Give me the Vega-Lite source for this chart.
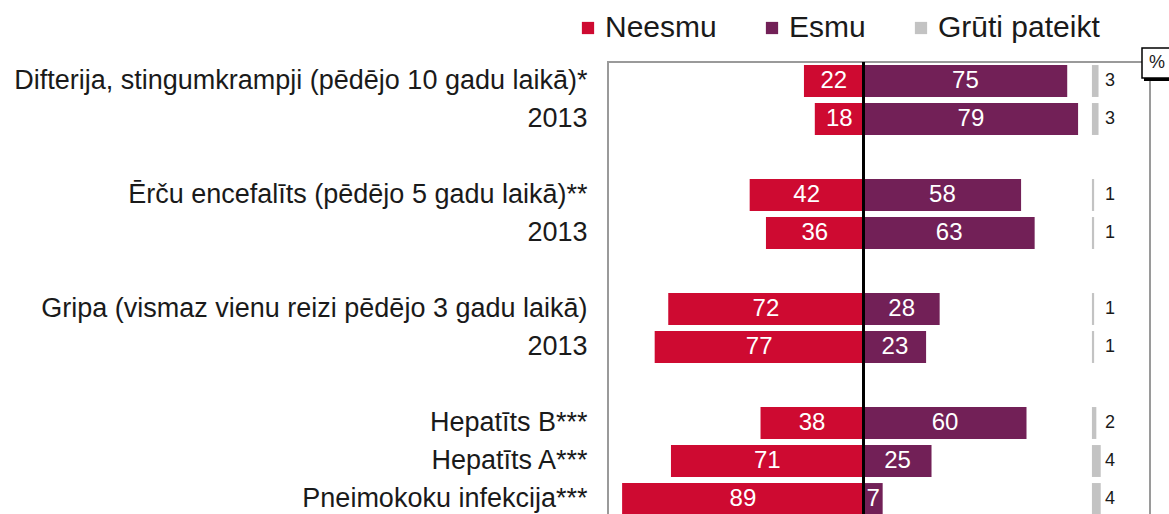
{
  "$schema": "https://vega.github.io/schema/vega-lite/v6.json",
  "width": 542,
  "height": 456,
  "autosize": {"type": "none"},
  "padding": {"left": 608, "top": 62, "right": 19, "bottom": 0},
  "background": "white",
  "config": {
    "view": {"stroke": "#9a9a9a", "strokeWidth": 2},
    "font": "Liberation Sans"
  },
  "data": {
    "values": [
      {"row": "Difterija, stingumkrampji (pēdējo 10 gadu laikā)*", "category": "Neesmu", "value": 22},
      {"row": "Difterija, stingumkrampji (pēdējo 10 gadu laikā)*", "category": "Esmu", "value": 75},
      {"row": "Difterija, stingumkrampji (pēdējo 10 gadu laikā)*", "category": "Grūti pateikt", "value": 3},
      {"row": "2013a", "category": "Neesmu", "value": 18},
      {"row": "2013a", "category": "Esmu", "value": 79},
      {"row": "2013a", "category": "Grūti pateikt", "value": 3},
      {"row": "Ērču encefalīts (pēdējo 5 gadu laikā)**", "category": "Neesmu", "value": 42},
      {"row": "Ērču encefalīts (pēdējo 5 gadu laikā)**", "category": "Esmu", "value": 58},
      {"row": "Ērču encefalīts (pēdējo 5 gadu laikā)**", "category": "Grūti pateikt", "value": 1},
      {"row": "2013b", "category": "Neesmu", "value": 36},
      {"row": "2013b", "category": "Esmu", "value": 63},
      {"row": "2013b", "category": "Grūti pateikt", "value": 1},
      {"row": "Gripa (vismaz vienu reizi pēdējo 3 gadu laikā)", "category": "Neesmu", "value": 72},
      {"row": "Gripa (vismaz vienu reizi pēdējo 3 gadu laikā)", "category": "Esmu", "value": 28},
      {"row": "Gripa (vismaz vienu reizi pēdējo 3 gadu laikā)", "category": "Grūti pateikt", "value": 1},
      {"row": "2013c", "category": "Neesmu", "value": 77},
      {"row": "2013c", "category": "Esmu", "value": 23},
      {"row": "2013c", "category": "Grūti pateikt", "value": 1},
      {"row": "Hepatīts B***", "category": "Neesmu", "value": 38},
      {"row": "Hepatīts B***", "category": "Esmu", "value": 60},
      {"row": "Hepatīts B***", "category": "Grūti pateikt", "value": 2},
      {"row": "Hepatīts A***", "category": "Neesmu", "value": 71},
      {"row": "Hepatīts A***", "category": "Esmu", "value": 25},
      {"row": "Hepatīts A***", "category": "Grūti pateikt", "value": 4},
      {"row": "Pneimokoku infekcija***", "category": "Neesmu", "value": 89},
      {"row": "Pneimokoku infekcija***", "category": "Esmu", "value": 7},
      {"row": "Pneimokoku infekcija***", "category": "Grūti pateikt", "value": 4}
    ]
  },
  "transform": [
    {"calculate": "datum.category == 'Neesmu' ? -datum.value : datum.value", "as": "x"},
    {"calculate": "datum.x / 2", "as": "mid"}
  ],
  "layer": [
    {
      "layer": [
        {
          "transform": [{"filter": "datum.category != 'Grūti pateikt'"}],
          "mark": {"type": "bar"},
          "encoding": {
            "y": {
              "field": "row", "type": "nominal", "sort": null,
              "scale": {"domain": ["Difterija, stingumkrampji (pēdējo 10 gadu laikā)*", "2013a", "gap1", "Ērču encefalīts (pēdējo 5 gadu laikā)**", "2013b", "gap2", "Gripa (vismaz vienu reizi pēdējo 3 gadu laikā)", "2013c", "gap3", "Hepatīts B***", "Hepatīts A***", "Pneimokoku infekcija***"], "paddingInner": 0.16, "paddingOuter": 0.08},
              "axis": {
                "title": null, "domain": false, "ticks": false, "labelFontSize": 27, "labelPadding": 21, "labelLimit": 800, "labelColor": "#1a1a1a",
                "labelExpr": "indexof(datum.label,'gap')==0 ? '' : (indexof(datum.label,'2013')==0 ? '2013' : datum.label)"
              }
            },
            "x": {"field": "x", "type": "quantitative", "scale": {"domain": [-94.2, 105.5], "nice": false}, "axis": null},
            "color": {
              "field": "category", "type": "nominal",
              "scale": {"domain": ["Neesmu", "Esmu", "Grūti pateikt"], "range": ["#CE0A31", "#722057", "#C3C3C3"]},
              "legend": {
                "orient": "none", "legendX": -35, "legendY": -49, "direction": "horizontal", "title": null,
                "symbolType": "square", "symbolSize": 150, "symbolStrokeWidth": 0, "labelFontSize": 30, "labelOffset": 2,
                "columnPadding": 40, "labelColor": "#1a1a1a", "labelLimit": 400
              }
            }
          }
        },
        {
          "transform": [{"filter": "datum.category != 'Grūti pateikt'"}],
          "mark": {"type": "text", "color": "white", "fontSize": 24, "align": "center", "baseline": "middle"},
          "encoding": {
            "y": {"field": "row", "type": "nominal", "sort": null},
            "x": {"field": "mid", "type": "quantitative"},
            "text": {"field": "value", "type": "quantitative"}
          }
        },
        {
          "mark": {"type": "rule", "color": "black", "strokeWidth": 2},
          "encoding": {"x": {"datum": 0, "type": "quantitative"}}
        }
      ]
    },
    {
      "transform": [{"filter": "datum.category == 'Grūti pateikt'"}],
      "encoding": {
        "y": {
          "field": "row", "type": "nominal", "sort": null,
          "scale": {"domain": ["Difterija, stingumkrampji (pēdējo 10 gadu laikā)*", "2013a", "gap1", "Ērču encefalīts (pēdējo 5 gadu laikā)**", "2013b", "gap2", "Gripa (vismaz vienu reizi pēdējo 3 gadu laikā)", "2013c", "gap3", "Hepatīts B***", "Hepatīts A***", "Pneimokoku infekcija***"], "paddingInner": 0.16, "paddingOuter": 0.08},
          "axis": null
        }
      },
      "layer": [
        {
          "mark": {"type": "bar"},
          "encoding": {
            "x": {"field": "value", "type": "quantitative", "scale": {"domain": [-220, 26.4], "nice": false}, "axis": null},
            "color": {"field": "category", "type": "nominal"}
          }
        },
        {
          "mark": {"type": "text", "fontSize": 18, "align": "left", "baseline": "middle", "dx": 13, "color": "#1a1a1a"},
          "encoding": {
            "x": {"datum": 0, "type": "quantitative"},
            "text": {"field": "value", "type": "quantitative"}
          }
        }
      ]
    },
    {
      "data": {"values": [{"t": "%"}]},
      "encoding": {
        "x": {"datum": 1, "type": "quantitative", "scale": {"domain": [0, 1]}, "axis": null},
        "y": {"datum": 1, "type": "quantitative", "scale": {"domain": [0, 1]}, "axis": null}
      },
      "layer": [
        {"mark": {"type": "point", "shape": "square", "size": 900, "filled": true, "color": "black", "opacity": 1, "xOffset": 9, "yOffset": 4}},
        {"mark": {"type": "point", "shape": "square", "size": 900, "filled": true, "fill": "white", "stroke": "black", "strokeWidth": 1.5, "opacity": 1, "xOffset": 7, "yOffset": 1}},
        {"mark": {"type": "text", "fontSize": 18, "xOffset": 7, "yOffset": 1, "color": "#1a1a1a"}, "encoding": {"text": {"field": "t"}}}
      ]
    }
  ],
  "resolve": {"scale": {"x": "independent", "y": "independent"}}
}
